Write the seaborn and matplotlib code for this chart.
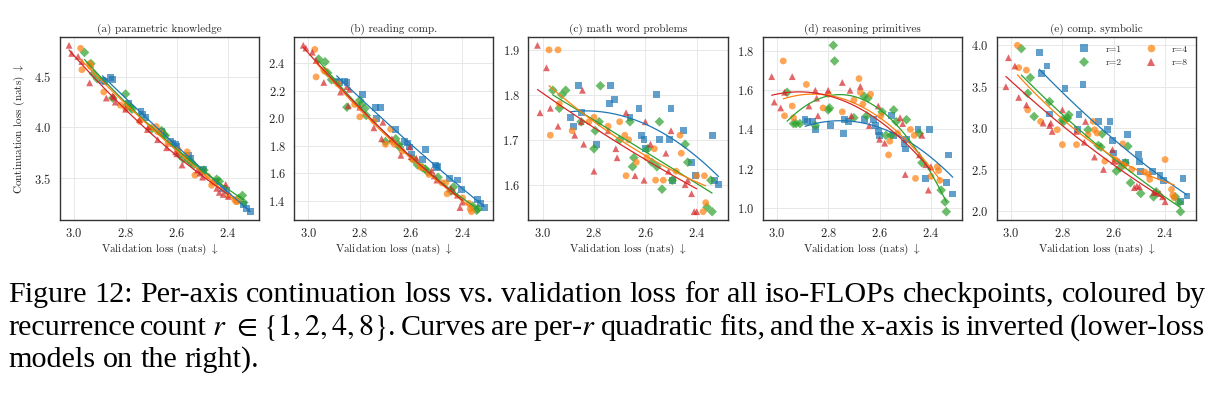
import numpy as np
import pandas as pd
import matplotlib

matplotlib.use("Agg")
import matplotlib.pyplot as plt
from matplotlib.lines import Line2D
from matplotlib.ticker import MultipleLocator
import seaborn as sns

# recurrence counts and their validation losses (shared by all panels)
R_VALUES = [1, 2, 4, 8]
VAL_R1 = [2.89, 2.88, 2.86, 2.85, 2.79, 2.74, 2.735, 2.72, 2.66, 2.625, 2.615, 2.605,
          2.60, 2.555, 2.545, 2.505, 2.50, 2.495, 2.45, 2.42, 2.405, 2.34, 2.33, 2.315]
VAL_R2 = [2.96, 2.935, 2.925, 2.91, 2.85, 2.80, 2.795, 2.78, 2.775, 2.70, 2.66, 2.65,
          2.645, 2.59, 2.575, 2.555, 2.545, 2.535, 2.495, 2.445, 2.435, 2.36, 2.345, 2.34]
VAL_R4 = [2.975, 2.97, 2.94, 2.935, 2.885, 2.82, 2.80, 2.745, 2.70, 2.68, 2.675, 2.665,
          2.635, 2.595, 2.565, 2.56, 2.53, 2.48, 2.465, 2.46, 2.40, 2.375, 2.37, 2.365]
VAL_R8 = [3.02, 3.01, 2.985, 2.97, 2.94, 2.875, 2.85, 2.845, 2.84, 2.80, 2.745, 2.715, 2.71,
          2.675, 2.64, 2.605, 2.60, 2.58, 2.52, 2.51, 2.50, 2.445, 2.435, 2.42, 2.41, 2.40]

# (a) parametric knowledge
A_R1 = [4.46, 4.45, 4.49, 4.47, 4.24, 4.16, 4.13, 4.10, 3.96, 3.86, 3.84, 3.83,
        3.81, 3.72, 3.70, 3.58, 3.57, 3.59, 3.47, 3.40, 3.38, 3.24, 3.20, 3.17]
A_R2 = [4.74, 4.63, 4.53, 4.48, 4.29, 4.33, 4.22, 4.20, 4.18, 3.98, 3.97, 3.93,
        3.92, 3.73, 3.69, 3.68, 3.66, 3.63, 3.58, 3.49, 3.47, 3.30, 3.33, 3.26]
A_R4 = [4.78, 4.57, 4.63, 4.60, 4.35, 4.22, 4.19, 4.06, 4.00, 4.01, 3.96, 3.95,
        3.84, 3.78, 3.72, 3.76, 3.53, 3.52, 3.43, 3.46, 3.33, 3.29, 3.27, 3.27]
A_R8 = [4.81, 4.73, 4.70, 4.65, 4.44, 4.29, 4.31, 4.30, 4.25, 4.18, 4.08, 3.98, 4.01,
        3.88, 3.80, 3.76, 3.74, 3.63, 3.58, 3.55, 3.51, 3.40, 3.36, 3.34, 3.44, 3.32]

# (b) reading comp.
B_R1 = [2.27, 2.26, 2.27, 2.26, 2.17, 2.08, 2.00, 2.08, 1.92, 1.83, 1.82, 1.79,
        1.74, 1.70, 1.77, 1.66, 1.64, 1.65, 1.56, 1.55, 1.48, 1.41, 1.38, 1.35]
B_R2 = [2.43, 2.41, 2.33, 2.28, 2.08, 2.13, 2.10, 2.07, 2.02, 1.83, 1.85, 1.81,
        1.79, 1.70, 1.66, 1.64, 1.63, 1.61, 1.57, 1.47, 1.50, 1.36, 1.33, 1.34]
B_R4 = [2.50, 2.30, 2.35, 2.34, 2.25, 2.10, 2.01, 1.98, 1.81, 1.92, 1.83, 1.81,
        1.76, 1.70, 1.65, 1.64, 1.59, 1.53, 1.53, 1.45, 1.42, 1.38, 1.34, 1.32]
B_R8 = [2.53, 2.51, 2.48, 2.42, 2.26, 2.19, 2.23, 2.09, 2.21, 2.08, 1.93, 1.85, 1.97,
        1.85, 1.73, 1.79, 1.72, 1.71, 1.62, 1.58, 1.55, 1.49, 1.47, 1.44, 1.35, 1.39]

# (c) math word problems
C_R1 = [1.75, 1.73, 1.82, 1.76, 1.69, 1.78, 1.82, 1.79, 1.75, 1.77, 1.71, 1.70,
        1.68, 1.80, 1.70, 1.70, 1.77, 1.61, 1.72, 1.65, 1.62, 1.71, 1.61, 1.60]
C_R2 = [1.81, 1.77, 1.80, 1.81, 1.74, 1.68, 1.72, 1.74, 1.82, 1.70, 1.74, 1.64,
        1.66, 1.68, 1.65, 1.64, 1.74, 1.59, 1.61, 1.69, 1.65, 1.55, 1.61, 1.54]
C_R4 = [1.90, 1.71, 1.90, 1.78, 1.72, 1.74, 1.75, 1.73, 1.74, 1.71, 1.62, 1.70,
        1.65, 1.66, 1.68, 1.61, 1.61, 1.63, 1.71, 1.67, 1.62, 1.54, 1.62, 1.56]
C_R8 = [1.91, 1.76, 1.86, 1.77, 1.73, 1.71, 1.74, 1.81, 1.69, 1.63, 1.72, 1.68, 1.66,
        1.76, 1.62, 1.61, 1.74, 1.69, 1.67, 1.63, 1.72, 1.60, 1.61, 1.58, 1.54, 1.54]

# (d) reasoning primitives
D_R1 = [1.45, 1.44, 1.44, 1.40, 1.42, 1.38, 1.45, 1.44, 1.45, 1.45, 1.42, 1.39,
        1.37, 1.47, 1.37, 1.33, 1.30, 1.35, 1.40, 1.15, 1.40, 1.13, 1.27, 1.07]
D_R2 = [1.59, 1.43, 1.43, 1.43, 1.42, 1.50, 1.51, 1.83, 1.75, 1.46, 1.57, 1.47,
        1.56, 1.49, 1.37, 1.37, 1.50, 1.44, 1.45, 1.38, 1.23, 1.09, 1.03, 0.98]
D_R4 = [1.75, 1.47, 1.52, 1.46, 1.63, 1.51, 1.58, 1.49, 1.55, 1.66, 1.59, 1.53,
        1.58, 1.47, 1.27, 1.34, 1.38, 1.40, 1.37, 1.15, 1.16, 1.21, 1.19, 1.14]
D_R8 = [1.67, 1.54, 1.51, 1.59, 1.67, 1.52, 1.60, 1.56, 1.47, 1.60, 1.64, 1.60, 1.47,
        1.62, 1.42, 1.52, 1.35, 1.33, 1.46, 1.43, 1.17, 1.27, 1.37, 1.22, 1.09, 1.21]

# (e) comp. symbolic
E_R1 = [3.91, 3.66, 3.75, 3.17, 3.48, 2.98, 3.16, 3.53, 3.08, 2.98, 3.08, 2.85,
        2.70, 2.58, 2.92, 2.68, 2.60, 2.48, 2.48, 2.43, 2.37, 2.11, 2.39, 2.18]
E_R2 = [3.96, 3.42, 3.61, 3.14, 3.32, 3.10, 3.08, 3.12, 3.16, 2.98, 2.79, 2.77,
        2.93, 2.48, 2.52, 2.58, 2.78, 2.34, 2.21, 2.17, 2.23, 2.17, 2.10, 1.99]
E_R4 = [4.00, 3.73, 3.70, 3.22, 3.08, 2.98, 2.80, 2.80, 2.92, 3.08, 2.98, 2.94,
        2.60, 2.62, 2.81, 2.55, 2.50, 2.47, 2.44, 2.38, 2.62, 2.26, 2.19, 2.16]
E_R8 = [3.50, 3.85, 3.75, 3.37, 3.28, 3.06, 3.03, 3.06, 2.96, 3.22, 2.96, 2.83, 3.08,
        2.65, 2.50, 2.74, 2.60, 2.60, 2.28, 2.30, 2.29, 2.22, 2.23, 2.21, 2.17, 2.11]

PANEL_TITLES = ["(a) parametric knowledge", "(b) reading comp.", "(c) math word problems",
                "(d) reasoning primitives", "(e) comp. symbolic"]
Y_STEPS = [0.5, 0.2, 0.1, 0.2, 0.5]

CAPTION_LINES = [
    "Figure 12: Per-axis continuation loss vs. validation loss for all iso-FLOPs checkpoints, coloured by",
    r"recurrence count $r$ $\in$ $\{1,2,4,8\}$. Curves are per-$r$ quadratic fits, and the x-axis is inverted (lower-loss",
    "models on the right).",
]

COLORS = {1: "#1f77b4", 2: "#2ca02c", 4: "#ff7f0e", 8: "#d62728"}
MARKERS = {1: "s", 2: "D", 4: "o", 8: "^"}


def build_frame() -> pd.DataFrame:
    val = {1: VAL_R1, 2: VAL_R2, 4: VAL_R4, 8: VAL_R8}
    panels = [
        (A_R1, A_R2, A_R4, A_R8),
        (B_R1, B_R2, B_R4, B_R8),
        (C_R1, C_R2, C_R4, C_R8),
        (D_R1, D_R2, D_R4, D_R8),
        (E_R1, E_R2, E_R4, E_R8),
    ]
    rows = []
    for p, series in enumerate(panels):
        for r, ys in zip(R_VALUES, series):
            for x, y in zip(val[r], ys):
                rows.append({"panel": p, "r": r, "val_loss": x, "cont_loss": y})
    return pd.DataFrame(rows)


def text_width(fig, renderer, s, **kw):
    t = fig.text(0, 0, s, **kw)
    w = t.get_window_extent(renderer).width
    t.remove()
    return w


def put_line(fig, renderer, text, y, x0, x1, justify, **kw):
    words = text.split(" ")
    items = [fig.text(0, y, w, va="baseline", ha="left", **kw) for w in words]
    widths = [t.get_window_extent(renderer).width for t in items]
    sp = text_width(fig, renderer, "a a", **kw) - text_width(fig, renderer, "aa", **kw)
    gap = (x1 - x0 - sum(widths)) / (len(words) - 1) if justify else sp
    gap = max(gap, 0.6 * sp)
    W = fig.bbox.width
    x = x0
    for t, w in zip(items, widths):
        t.set_x(x / W)
        x += w + gap


df = build_frame()

sns.set_style("whitegrid", {
    "axes.edgecolor": "#333333",
    "grid.color": "#e8e8e8",
    "axes.linewidth": 1.0,
})
plt.rcParams["font.family"] = ["cmr10", "DejaVu Serif"]
plt.rcParams["mathtext.fontset"] = "cm"
plt.rcParams["axes.formatter.use_mathtext"] = True
plt.rcParams["axes.unicode_minus"] = False

fig, axes = plt.subplots(1, 5, figsize=(12.2, 3.93), dpi=100)
fig.subplots_adjust(left=60 / 1220, right=1196 / 1220, top=1 - 37 / 393, bottom=1 - 220 / 393,
                    wspace=0.176)

for p, ax in enumerate(axes):
    sub = df[df["panel"] == p]
    sns.scatterplot(data=sub, x="val_loss", y="cont_loss", hue="r", style="r",
                    hue_order=R_VALUES, style_order=R_VALUES, palette=COLORS, markers=MARKERS,
                    s=24, alpha=0.7, linewidth=0, legend=False, ax=ax, zorder=2)
    for r in R_VALUES:
        part = sub[sub["r"] == r]
        sns.regplot(x=part["val_loss"].to_numpy(), y=part["cont_loss"].to_numpy(), order=2,
                    ci=None, scatter=False, truncate=True, color=COLORS[r],
                    line_kws={"lw": 0.9, "zorder": 3}, ax=ax)
    ax.invert_xaxis()
    ax.set_xticks([3.0, 2.8, 2.6, 2.4])
    ax.yaxis.set_major_locator(MultipleLocator(Y_STEPS[p]))
    ax.set_title(PANEL_TITLES[p], fontsize=8, pad=4)
    ax.set_xlabel(r"Validation loss (nats) $\downarrow$", fontsize=8, labelpad=1)
    ax.set_ylabel("")
    ax.tick_params(labelsize=9, length=0, pad=5)
    ax.tick_params(axis="y", pad=6)
    ax.grid(True, lw=0.7)
    for s in ax.spines.values():
        s.set_linewidth(1.0)

axes[0].set_ylabel(r"Continuation loss (nats) $\downarrow$", fontsize=8, labelpad=5)

handles = [Line2D([], [], ls="none", marker=MARKERS[r], color=COLORS[r], alpha=0.7,
                  markersize=5.5, markeredgewidth=0) for r in R_VALUES]
axes[4].legend(handles, [f"r={r}" for r in R_VALUES], ncol=2, frameon=False, fontsize=7,
               loc="upper right", borderaxespad=0.4, handletextpad=1.2, columnspacing=2.0,
               labelspacing=0.5)

# caption: size chosen so the first line fills the width, then lines are justified
renderer = fig.canvas.get_renderer()
cap_kw = dict(family="Liberation Serif", math_fontfamily="stix", color="black")
natural = text_width(fig, renderer, CAPTION_LINES[0], fontsize=20, **cap_kw)
cap_size = 20 * (1205 - 8) / natural
baselines = [1 - 302 / 393, 1 - 335 / 393, 1 - 367 / 393]
for i, (line, yb) in enumerate(zip(CAPTION_LINES, baselines)):
    put_line(fig, renderer, line, yb, 8, 1205, justify=(i < 2), fontsize=cap_size, **cap_kw)

fig.savefig("out.png", dpi=100)
plt.close(fig)
